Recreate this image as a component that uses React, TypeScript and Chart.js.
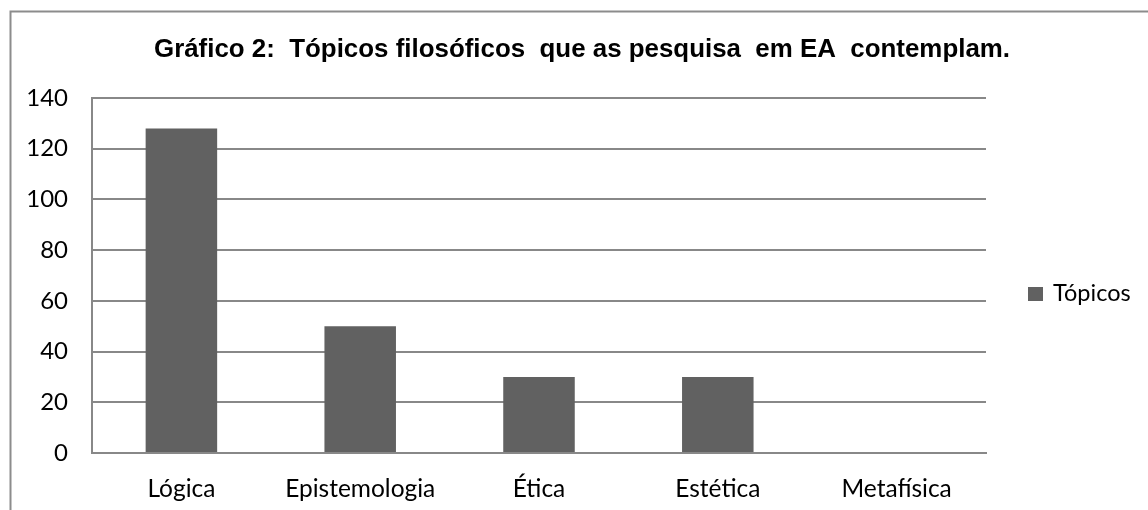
import React, { useEffect, useRef } from "react";
import { Chart, registerables } from "chart.js";

Chart.register(...registerables);

const titleText = "Gráfico 2:  Tópicos filosóficos  que as pesquisa  em EA  contemplam.";
const categories = ["Lógica", "Epistemologia", "Ética", "Estética", "Metafísica"];
const seriesLabel = "Tópicos";
const topicos = [128, 50, 30, 30, 0];
const yTicks = [0, 20, 40, 60, 80, 100, 120, 140];

const BAR_COLOR = "#616161";
const GRID_COLOR = "#888888";
const LABEL_FONT = "Lato";

export default function App() {
  const ref = useRef<HTMLCanvasElement | null>(null);

  useEffect(() => {
    const canvas = ref.current;
    if (!canvas) return;

    const decor = {
      id: "decor",
      beforeDraw(chart: any) {
        const ctx = chart.ctx;
        ctx.save();
        ctx.fillStyle = "#ffffff";
        ctx.fillRect(0, 0, chart.width, chart.height);
        ctx.strokeStyle = "#8c8c8c";
        ctx.lineWidth = 2;
        ctx.beginPath();
        ctx.moveTo(10.5, chart.height);
        ctx.lineTo(10.5, 11.5);
        ctx.lineTo(chart.width, 11.5);
        ctx.stroke();
        ctx.restore();
      },
      afterDraw(chart: any) {
        const ctx = chart.ctx;
        ctx.save();
        // title
        ctx.fillStyle = "#000000";
        ctx.font = "bold 26px 'Liberation Sans', Arial, sans-serif";
        ctx.textBaseline = "alphabetic";
        ctx.textAlign = "left";
        const w = ctx.measureText(titleText).width;
        const target = 856;
        const sx = target / w;
        ctx.translate(154, 57);
        ctx.scale(sx, 1);
        ctx.fillText(titleText, 0, 0);
        ctx.restore();

        // legend
        ctx.save();
        const ds = chart.data.datasets[0];
        ctx.fillStyle = ds.backgroundColor;
        ctx.fillRect(1028, 287, 15, 14);
        ctx.fillStyle = "#000000";
        ctx.font = `23.5px ${LABEL_FONT}`;
        ctx.textBaseline = "alphabetic";
        ctx.textAlign = "left";
        ctx.fillText(ds.label, 1053, 301);
        ctx.restore();
      },
    };

    const chart = new Chart(canvas, {
      type: "bar",
      data: {
        labels: categories,
        datasets: [
          {
            label: seriesLabel,
            data: topicos,
            backgroundColor: BAR_COLOR,
            borderWidth: 0,
            categoryPercentage: 1,
            barPercentage: 0.4,
          },
        ],
      },
      options: {
        responsive: false,
        animation: false,
        devicePixelRatio: 1,
        layout: { padding: { top: 98, left: 0, right: 162, bottom: 0 } },
        plugins: {
          legend: { display: false },
          title: { display: false },
          tooltip: { enabled: false },
        },
        scales: {
          x: {
            grid: { display: false, drawTicks: false },
            border: { display: true, color: GRID_COLOR, width: 2 },
            ticks: {
              color: "#000000",
              font: { family: LABEL_FONT, size: 24.5 },
              padding: 21,
              maxRotation: 0,
              autoSkip: false,
            },
            afterFit: (s: any) => {
              s.height = 57;
            },
          },
          y: {
            min: 0,
            max: 140,
            afterBuildTicks: (s: any) => {
              s.ticks = yTicks.map((v) => ({ value: v }));
            },
            ticks: {
              color: "#000000",
              font: { family: LABEL_FONT, size: 24 },
              padding: 24,
            },
            grid: { color: GRID_COLOR, lineWidth: 2, drawTicks: false },
            border: { display: true, color: GRID_COLOR, width: 2 },
            afterFit: (s: any) => {
              s.width = 92;
            },
          },
        },
      },
      plugins: [decor],
    });

    return () => chart.destroy();
  }, []);

  return (
    <div style={{ position: "absolute", left: 0, top: 0, width: 1148, height: 510 }}>
      <canvas ref={ref} width={1148} height={510} />
    </div>
  );
}
